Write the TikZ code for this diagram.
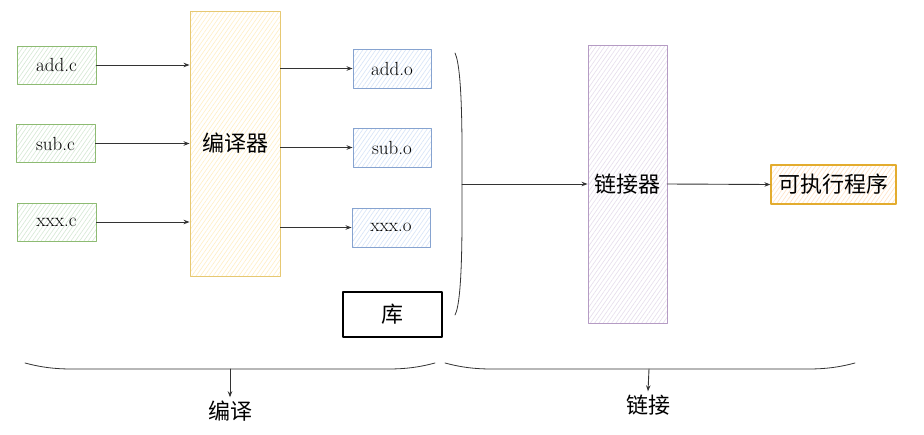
\documentclass[tikz,border=0pt]{standalone}
\usepackage{fontspec}
\newfontfamily\cjk{Noto Sans CJK SC}
\usetikzlibrary{arrows.meta,patterns.meta}
\definecolor{gD}{HTML}{8DBB72}
\definecolor{gF}{HTML}{D5E8D4}
\definecolor{yD}{HTML}{E6C872}
\definecolor{yF}{HTML}{FFEFC4}
\definecolor{bD}{HTML}{86A3D0}
\definecolor{bF}{HTML}{D6E4F8}
\definecolor{pD}{HTML}{B59BC4}
\definecolor{pF}{HTML}{E6DDEC}
\definecolor{oD}{HTML}{E3AC2E}
\definecolor{oF}{HTML}{FFE2C4}
\definecolor{lnc}{HTML}{333333}

\tikzset{
  sketch/.style={draw=#1, line width=0.9pt, inner sep=0pt,
    preaction={fill=white},
    pattern={Lines[angle=55,distance=3.5pt,line width=0.6pt]}},
  srcbox/.style={sketch=gD, pattern color=gF, minimum width=79pt, minimum height=38pt,
    font=\fontsize{19}{19}\selectfont},
  objbox/.style={sketch=bD, pattern color=bF, minimum width=78pt, minimum height=39pt,
    font=\fontsize{19}{19}\selectfont},
  tool/.style={sketch=#1, minimum width=90pt, font=\cjk\fontsize{22}{22}\selectfont},
  conn/.style={lnc, line width=0.9pt, -{Stealth[length=6pt,width=4.5pt]}},
  brc/.style={lnc, line width=0.8pt},
}

\begin{document}
\begin{tikzpicture}[x=1pt,y=-1pt,line cap=round,line join=round]
  \useasboundingbox (0,0) rectangle (924,434);

  % sources
  \node[srcbox] (addc) at (56.5,65)  {add.c};
  \node[srcbox] (subc) at (55.5,143.5) {sub.c};
  \node[srcbox] (xxxc) at (56.5,222) {xxx.c};

  \node[tool=yD, pattern color=yF, minimum height=265pt] (comp) at (235,143.5) {编译器};

  % objects
  \node[objbox] (addo) at (392,68.5)  {add.o};
  \node[objbox] (subo) at (392,147.5) {sub.o};
  \node[objbox] (xxxo) at (391,227.5) {xxx.o};
  \node[draw=black, line width=1.1pt, minimum width=99pt, minimum height=45pt,
        font=\cjk\fontsize{22}{22}\selectfont] (lib) at (392.5,314.5) {库};

  \node[tool=pD, pattern color=pF, minimum width=79pt, minimum height=278pt] (link) at (627.5,184) {链接器};
  \node[sketch=oD, pattern color=oF, line width=1.2pt, minimum width=125pt, minimum height=39pt,
        font=\cjk\fontsize{22}{22}\selectfont] (exe) at (833.5,184.5) {可执行程序};

  \draw[conn] (addc.east) -- (comp.west |- addc.east);
  \draw[conn] (subc.east) -- (comp.west |- subc.east);
  \draw[conn] (xxxc.east) -- (comp.west |- xxxc.east);
  \draw[conn] (comp.east |- addo.west) -- (addo.west);
  \draw[conn] (comp.east |- subo.west) -- (subo.west);
  \draw[conn] (comp.east |- xxxo.west) -- (xxxo.west);

  % bracket round the objects
  \coordinate (brk) at (462,184);
  \draw[brc] (455,53) .. controls (463,70) and (462,150) .. (brk)
                     .. controls (462,220) and (463,300) .. (455,315);
  \draw[conn] (brk) -- (link.west);
  \draw[conn] (link.east) -- (exe.west);

  % bottom braces
  \coordinate (bA) at (230,369);
  \coordinate (bB) at (649,369);
  \draw[brc] (25,363) to[out=-15,in=180] (95,369) -- (365,369) to[out=0,in=-165] (435,363);
  \draw[brc] (445,363) to[out=-15,in=180] (515,369) -- (785,369) to[out=0,in=-165] (855,363);

  \node[font=\cjk\fontsize{22}{22}\selectfont] (stA) at (230,411) {编译};
  \node[font=\cjk\fontsize{22}{22}\selectfont] (stB) at (648,405) {链接};
  \draw[conn] (bA) -- (stA.north);
  \draw[conn] (bB) -- (stB.north);

\end{tikzpicture}
\end{document}
